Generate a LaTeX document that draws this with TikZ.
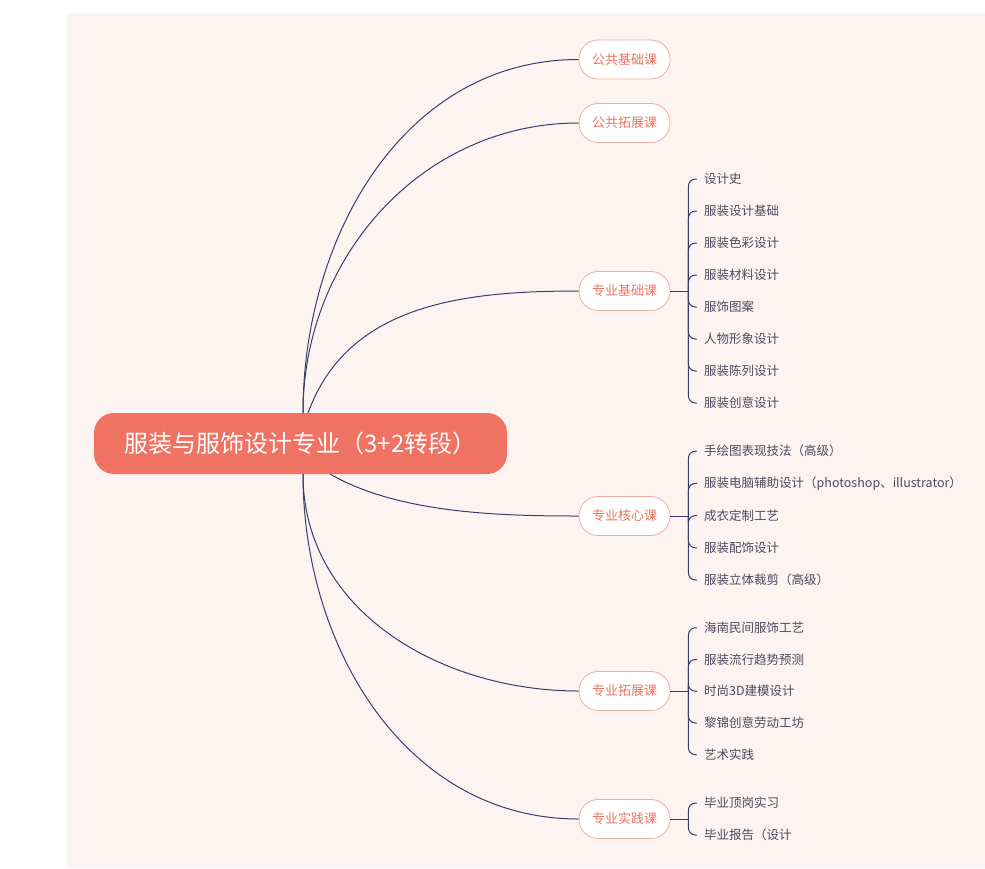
\documentclass[tikz,border=0pt]{standalone}
\usepackage{fontspec}
\setmainfont{Noto Sans CJK SC}
\usetikzlibrary{calc}
\definecolor{bgpink}{HTML}{FDF4F2}
\definecolor{rootred}{HTML}{F07262}
\definecolor{subred}{HTML}{E9735F}
\definecolor{subline}{HTML}{EBAFA3}
\definecolor{navy}{HTML}{3A3D6B}
\definecolor{leafgray}{HTML}{4B4B5E}
\tikzset{
  root/.style={fill=rootred,text=white,rounded corners=20pt,
    minimum width=413pt,minimum height=61pt,font=\fontsize{24}{27}\selectfont},
  sub/.style={draw=subline,fill=white,text=subred,line width=.8pt,
    rounded corners=19pt,minimum width=91pt,minimum height=39pt,
    font=\fontsize{13}{15}\selectfont},
  leaf/.style={anchor=west,text=leafgray,inner sep=3pt,
    font=\fontsize{12.5}{14}\selectfont},
  link/.style={draw=navy,line width=1pt},
  hook/.style={link,rounded corners=7pt,shorten >=4pt}
}

\begin{document}
\begin{tikzpicture}[x=1pt,y=-1pt]
\useasboundingbox (0,0) rectangle (985,868);
\fill[bgpink] (67,13) rectangle (985,868);

\node[root] (root) at (300.5,443.5) {服装与服饰设计专业（3+2转段）};
\coordinate (rt) at (303,413);
\coordinate (rt2) at (308,413);
\coordinate (rb) at (303,474);
\coordinate (rb2) at (330,474);

% second level
\node[sub] (ggjc) at (624.5,59.5) {公共基础课};
\node[sub] (ggtz) at (624.5,123) {公共拓展课};
\node[sub] (zyjc) at (624.5,291) {专业基础课};
\node[sub] (zyhx) at (624.5,516) {专业核心课};
\node[sub] (zytz) at (624.5,691) {专业拓展课};
\node[sub] (zysj) at (624.5,819) {专业实践课};

\draw[link] (rt) to[out=90,in=180] (ggjc.west);
\draw[link] (rt) to[out=90,in=180] (ggtz.west);
\draw[link] (rt2) to[out=70,in=180] (zyjc.west);
\draw[link] (rb2) to[out=-30,in=180,looseness=.8] (zyhx.west);
\draw[link] (rb) to[out=-90,in=180] (zytz.west);
\draw[link] (rb) to[out=-90,in=180] (zysj.west);

% hubs of the brackets
\foreach \n in {zyjc,zyhx,zytz,zysj}
  \draw[link] (\n.east) -- ($(\n.east)+(18,0)$) coordinate (\n hub);

% leaves
\foreach \t [count=\i] in {设计史,服装设计基础,服装色彩设计,服装材料设计,
    服饰图案,人物形象设计,服装陈列设计,服装创意设计} {
  \node[leaf] (jc\i) at (701,147+32*\i) {\t};
  \draw[hook] (zyjchub) |- (jc\i.west);
}
\foreach \t [count=\i] in {手绘图表现技法（高级）,
    服装电脑辅助设计（photoshop、illustrator）,成衣定制工艺,
    服装配饰设计,服装立体裁剪（高级）} {
  \node[leaf] (hx\i) at (701,419+32.2*\i) {\t};
  \draw[hook] (zyhxhub) |- (hx\i.west);
}
\foreach \t [count=\i] in {海南民间服饰工艺,服装流行趋势预测,时尚3D建模设计,
    黎锦创意劳动工坊,艺术实践} {
  \node[leaf] (tz\i) at (701,596+31.75*\i) {\t};
  \draw[hook] (zytzhub) |- (tz\i.west);
}
\foreach \t [count=\i] in {毕业顶岗实习,毕业报告（设计} {
  \node[leaf] (sj\i) at (701,771+32*\i) {\t};
  \draw[hook] (zysjhub) |- (sj\i.west);
}
\end{tikzpicture}
\end{document}
